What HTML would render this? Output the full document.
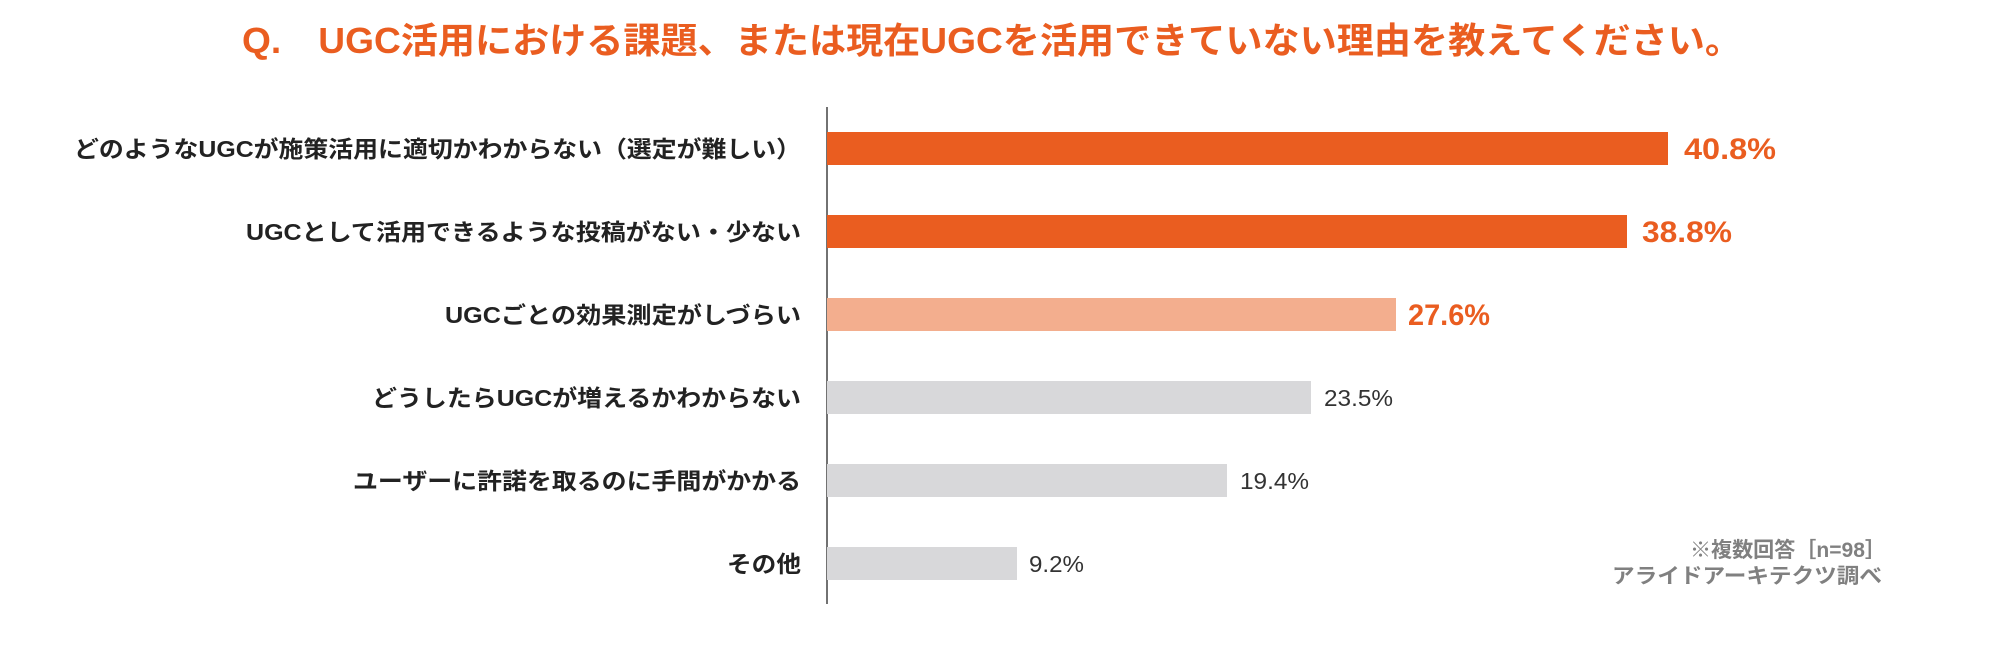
<!DOCTYPE html>
<html><head><meta charset="utf-8"><style>
html,body{margin:0;padding:0;background:#fff;}
svg{display:block;}
text{font-family:"Liberation Sans","Noto Sans CJK JP",sans-serif;}
</style></head><body>
<svg width="2000" height="664" viewBox="0 0 2000 664" xmlns="http://www.w3.org/2000/svg">
<text x="242" y="53" font-size="36" font-weight="bold" fill="#EA5D20" textLength="1500" lengthAdjust="spacingAndGlyphs">Q.　UGC活用における課題、または現在UGCを活用できていない理由を教えてください。</text>
<line x1="827" y1="107" x2="827" y2="604" stroke="#444" stroke-width="1.5"/>
<rect x="827" y="132" width="841" height="33" fill="#EA5D20"/>
<rect x="827" y="215" width="800" height="33" fill="#EA5D20"/>
<rect x="827" y="298" width="569" height="33" fill="#F3AE8E"/>
<rect x="827" y="381" width="484" height="33" fill="#D8D8DA"/>
<rect x="827" y="464" width="400" height="33" fill="#D8D8DA"/>
<rect x="827" y="547" width="190" height="33" fill="#D8D8DA"/>
<g font-size="23" font-weight="bold" fill="#222">
<text x="74" y="157" textLength="727" lengthAdjust="spacingAndGlyphs">どのようなUGCが施策活用に適切かわからない（選定が難しい）</text>
<text x="246" y="240" textLength="555" lengthAdjust="spacingAndGlyphs">UGCとして活用できるような投稿がない・少ない</text>
<text x="445" y="323" textLength="356" lengthAdjust="spacingAndGlyphs">UGCごとの効果測定がしづらい</text>
<text x="372" y="406" textLength="429" lengthAdjust="spacingAndGlyphs">どうしたらUGCが増えるかわからない</text>
<text x="353" y="489" textLength="448" lengthAdjust="spacingAndGlyphs">ユーザーに許諾を取るのに手間がかかる</text>
<text x="727" y="572" textLength="74" lengthAdjust="spacingAndGlyphs">その他</text>
</g>
<g font-size="30" font-weight="bold" fill="#EA5D20">
<text x="1684" y="159" textLength="92" lengthAdjust="spacingAndGlyphs">40.8%</text>
<text x="1642" y="242" textLength="90" lengthAdjust="spacingAndGlyphs">38.8%</text>
<text x="1408" y="325" textLength="82" lengthAdjust="spacingAndGlyphs">27.6%</text>
</g>
<g font-size="23" fill="#333">
<text x="1324" y="406" textLength="69" lengthAdjust="spacingAndGlyphs">23.5%</text>
<text x="1240" y="489" textLength="69" lengthAdjust="spacingAndGlyphs">19.4%</text>
<text x="1029" y="572" textLength="55" lengthAdjust="spacingAndGlyphs">9.2%</text>
</g>
<g font-size="21" font-weight="bold" fill="#808080">
<text x="1690" y="557" textLength="196" lengthAdjust="spacingAndGlyphs">※複数回答［n=98］</text>
<text x="1612" y="583" textLength="270" lengthAdjust="spacingAndGlyphs">アライドアーキテクツ調べ</text>
</g>
</svg>
</body></html>
